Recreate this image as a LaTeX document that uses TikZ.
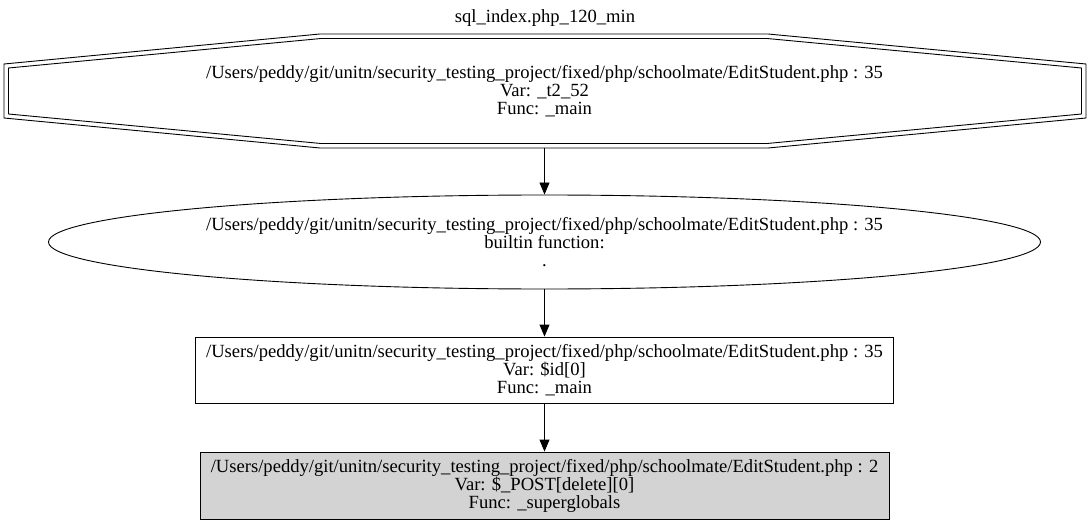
\documentclass[tikz,border=0pt]{standalone}
\usepackage{fontspec}
\setmainfont{Liberation Serif}
\usetikzlibrary{shapes.geometric,arrows.meta}
\begin{document}
\begin{tikzpicture}[x=1pt,y=-1pt,
  every node/.style={font=\fontsize{18.6}{18}\selectfont, align=center, inner sep=0pt},
  ell/.style={draw, ellipse, line width=0.9pt, minimum width=992pt, minimum height=94pt},
  box/.style={draw, rectangle, line width=0.9pt},
  edge/.style={line width=0.9pt, -{Triangle[length=12pt,width=10pt]}}]
\useasboundingbox (0,0) rectangle (1090,524);
\node (title) at (545,18) {sql\_index.php\_120\_min};
% octagon node
\node (n1) at (544.5,91) {/Users/peddy/git/unitn/security\_testing\_project/fixed/php/schoolmate/EditStudent.php : 35\\Var: \_t2\_52\\Func: \_main};
\draw[line width=0.9pt] (320,34) -- (768,34) -- (1086,64) -- (1086,118) -- (768,148) -- (320,148) -- (4,118) -- (4,64) -- cycle;
\draw[line width=0.9pt] (321,38.5) -- (767,38.5) -- (1081.5,68) -- (1081.5,114) -- (767,143.5) -- (321,143.5) -- (8.5,114) -- (8.5,68) -- cycle;
\coordinate (n1b) at (544.5,148);
\node[ell] (n2) at (544.5,242) {/Users/peddy/git/unitn/security\_testing\_project/fixed/php/schoolmate/EditStudent.php : 35\\builtin function:\\.};
\node[box, minimum width=698pt, minimum height=66pt] (n3) at (544.5,370) {/Users/peddy/git/unitn/security\_testing\_project/fixed/php/schoolmate/EditStudent.php : 35\\Var: \$id[0]\\Func: \_main};
\node[box, fill={rgb,255:red,211;green,211;blue,211}, minimum width=689pt, minimum height=67pt] (n4) at (544.5,485.5) {/Users/peddy/git/unitn/security\_testing\_project/fixed/php/schoolmate/EditStudent.php : 2\\Var: \$\_POST[delete][0]\\Func: \_superglobals};
\draw[edge] (n1b) -- (n2.north);
\draw[edge] (n2.south) -- (n3.north);
\draw[edge] (n3.south) -- (n4.north);
\end{tikzpicture}
\end{document}
